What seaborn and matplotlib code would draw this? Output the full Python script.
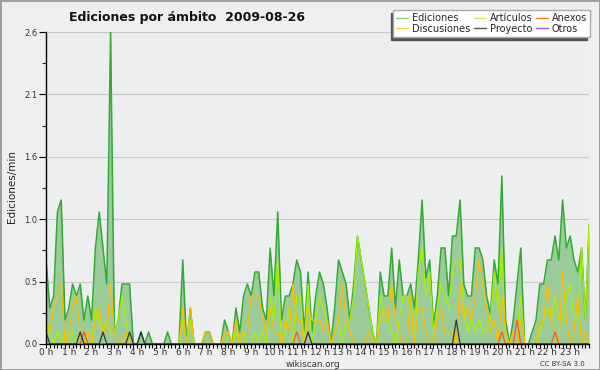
import matplotlib
matplotlib.use("Agg")
import matplotlib.pyplot as plt
from matplotlib.lines import Line2D
from matplotlib.ticker import FixedLocator, MultipleLocator
import numpy as np
import pandas as pd
import seaborn as sns

sns.set_theme(style="white")
plt.rcParams['font.family'] = ['DejaVu Sans']

# one value every 10 minutes, 6 per hour
hour_labels = [f"{h} h" for h in range(24)]

ediciones = [
    0.7, 0.3, 0.4, 1.1, 1.2, 0.2,
    0.3, 0.5, 0.4, 0.5, 0.2, 0.4,
    0.2, 0.8, 1.1, 0.8, 0.5, 2.6,
    0.1, 0.2, 0.5, 0.5, 0.5, 0.0,
    0.0, 0.1, 0.0, 0.1, 0.0, 0.0,
    0.0, 0.0, 0.1, 0.0, 0.0, 0.0,
    0.7, 0.0, 0.3, 0.0, 0.0, 0.0,
    0.1, 0.1, 0.0, 0.0, 0.0, 0.2,
    0.1, 0.0, 0.3, 0.1, 0.4, 0.5,
    0.4, 0.6, 0.6, 0.3, 0.2, 0.8,
    0.4, 1.1, 0.2, 0.4, 0.4, 0.5,
    0.7, 0.6, 0.1, 0.6, 0.1, 0.4,
    0.6, 0.5, 0.3, 0.0, 0.3, 0.7,
    0.6, 0.5, 0.2, 0.5, 0.9, 0.7,
    0.5, 0.3, 0.1, 0.0, 0.6, 0.4,
    0.4, 0.8, 0.3, 0.7, 0.4, 0.4,
    0.5, 0.3, 0.7, 1.2, 0.55, 0.7,
    0.15, 0.4, 0.8, 0.8, 0.4, 0.9,
    0.9, 1.2, 0.5, 0.4, 0.4, 0.8,
    0.8, 0.7, 0.4, 0.25, 0.7, 0.5,
    1.4, 0.2, 0.0, 0.2, 0.5, 0.8,
    0.0, 0.0, 0.1, 0.2, 0.5, 0.5,
    0.7, 0.7, 0.9, 0.7, 1.2, 0.8,
    0.9, 0.7, 0.6, 0.8, 0.2, 1.0,
]
articulos = [
    0.2, 0.1, 0.0, 0.1, 0.0, 0.1,
    0.0, 0.1, 0.0, 0.1, 0.0, 0.1,
    0.0, 0.3, 0.2, 0.1, 0.2, 0.1,
    0.1, 0.2, 0.4, 0.2, 0.0, 0.0,
    0.0, 0.0, 0.0, 0.0, 0.0, 0.0,
    0.0, 0.0, 0.0, 0.0, 0.0, 0.0,
    0.2, 0.0, 0.2, 0.0, 0.0, 0.0,
    0.0, 0.0, 0.0, 0.0, 0.0, 0.0,
    0.1, 0.0, 0.1, 0.0, 0.1, 0.0,
    0.0, 0.1, 0.0, 0.1, 0.0, 0.4,
    0.2, 0.7, 0.0, 0.1, 0.3, 0.0,
    0.4, 0.4, 0.0, 0.5, 0.0, 0.2,
    0.4, 0.3, 0.2, 0.0, 0.1, 0.2,
    0.0, 0.2, 0.2, 0.4, 0.9, 0.7,
    0.5, 0.3, 0.1, 0.0, 0.4, 0.2,
    0.2, 0.1, 0.0, 0.2, 0.4, 0.4,
    0.3, 0.0, 0.6, 0.8, 0.4, 0.6,
    0.1, 0.3, 0.5, 0.4, 0.3, 0.6,
    0.7, 0.7, 0.3, 0.1, 0.2, 0.1,
    0.2, 0.1, 0.1, 0.2, 0.6, 0.3,
    0.8, 0.0, 0.0, 0.1, 0.1, 0.4,
    0.0, 0.0, 0.0, 0.0, 0.1, 0.2,
    0.3, 0.2, 0.4, 0.2, 0.2, 0.4,
    0.5, 0.2, 0.2, 0.8, 0.2, 1.0,
]
discusiones = [
    0.15, 0.1, 0.3, 0.4, 0.5, 0.0,
    0.1, 0.3, 0.4, 0.1, 0.0, 0.1,
    0.0, 0.2, 0.3, 0.1, 0.1, 0.5,
    0.1, 0.0, 0.0, 0.1, 0.0, 0.0,
    0.0, 0.0, 0.0, 0.0, 0.0, 0.0,
    0.0, 0.0, 0.0, 0.0, 0.0, 0.0,
    0.3, 0.0, 0.3, 0.0, 0.0, 0.0,
    0.1, 0.1, 0.0, 0.0, 0.0, 0.1,
    0.1, 0.0, 0.2, 0.0, 0.1, 0.1,
    0.4, 0.4, 0.4, 0.2, 0.1, 0.3,
    0.1, 0.1, 0.0, 0.2, 0.1, 0.5,
    0.2, 0.2, 0.0, 0.3, 0.2, 0.2,
    0.2, 0.1, 0.2, 0.0, 0.1, 0.2,
    0.5, 0.2, 0.1, 0.0, 0.0, 0.0,
    0.0, 0.1, 0.0, 0.0, 0.2, 0.3,
    0.2, 0.5, 0.2, 0.1, 0.0, 0.0,
    0.4, 0.0, 0.3, 0.3, 0.1, 0.0,
    0.0, 0.2, 0.3, 0.1, 0.1, 0.1,
    0.0, 0.5, 0.2, 0.3, 0.2, 0.4,
    0.7, 0.5, 0.3, 0.1, 0.2, 0.0,
    0.4, 0.1, 0.0, 0.1, 0.0, 0.2,
    0.0, 0.0, 0.0, 0.0, 0.2, 0.2,
    0.5, 0.2, 0.1, 0.0, 0.6, 0.2,
    0.0, 0.1, 0.4, 0.0, 0.1, 0.0,
]
proyecto = [0.0] * 144
for i, v in [(0, 0.1), (9, 0.1), (15, 0.1), (22, 0.1), (25, 0.1), (69, 0.1), (108, 0.2)]:
    proyecto[i] = v
anexos = [0.0] * 144
for i, v in [(10, 0.1), (66, 0.1), (120, 0.1), (124, 0.2), (134, 0.1)]:
    anexos[i] = v
otros = [0.0] * 144

series = {
    'Otros': (otros, '#8844ee'),
    'Artículos': (articulos, '#aaee00'),
    'Discusiones': (discusiones, '#ffbb00'),
    'Anexos': (anexos, '#ff5522'),
    'Proyecto': (proyecto, '#333333'),
}

slot = np.arange(len(ediciones))
df = pd.DataFrame({'slot': slot, 'Ediciones': ediciones})

fig = plt.figure(figsize=(6.0, 3.7), dpi=100, facecolor='#efeff0')
fig.patch.set_edgecolor('#a0a0a0')
fig.patch.set_linewidth(2)
ax = fig.add_axes([0.0767, 0.0703, 0.9053, 0.8432])
ax.set_facecolor('#edeef0')

ax.fill_between(df['slot'], 0, df['Ediciones'], color='#99cc99', lw=0, zorder=2)
sns.lineplot(data=df, x='slot', y='Ediciones', ax=ax, color='#33aa33', lw=1.1, zorder=3)
for name, (vals, col) in series.items():
    sdf = pd.DataFrame({'slot': slot, 'v': vals})
    sns.lineplot(data=sdf, x='slot', y='v', ax=ax, color=col, lw=0.9, zorder=4)

ax.set_xlim(0, len(ediciones) - 1)
ax.set_ylim(0, 2.6)
ax.xaxis.set_major_locator(FixedLocator(np.arange(24) * 6))
ax.xaxis.set_minor_locator(MultipleLocator(1))
ax.set_xticklabels(hour_labels)
yt = np.linspace(0, 2.6, 6)
ax.yaxis.set_major_locator(FixedLocator(yt))
ax.yaxis.set_minor_locator(FixedLocator(yt[:-1] + 0.26))
ax.set_yticklabels([f"{v:.1f}" for v in yt])
ax.tick_params(axis='x', which='both', direction='out', length=3, width=0.8,
               colors='black', labelsize=6.5, pad=0, bottom=True)
ax.tick_params(axis='y', which='major', direction='out', length=5, width=0.8,
               colors='black', labelsize=6, pad=1, left=True)
ax.tick_params(axis='y', which='minor', direction='out', length=3, width=0.8, left=True)
for lab in ax.get_xticklabels() + ax.get_yticklabels():
    lab.set_color('#333333')
ax.grid(axis='y', color='#c8c8c8', lw=0.8)
ax.grid(axis='x', visible=False)
ax.set_axisbelow(True)
for s in ['top', 'right']:
    ax.spines[s].set_visible(False)
for s in ['left', 'bottom']:
    ax.spines[s].set_color('black')
    ax.spines[s].set_linewidth(1)
    ax.spines[s].set_zorder(10)
ax.set_xlabel('')
ax.set_ylabel('')

fig.text(0.02, 0.495, 'Ediciones/min', rotation=90, ha='center', va='center',
         fontsize=7.5, color='#222222')
fig.text(0.312, 0.952, 'Ediciones por ámbito  2009-08-26', ha='center', va='center',
         fontsize=9, fontweight='bold', color='#111111')
fig.text(0.522, 0.015, 'wikiscan.org', ha='center', va='center', fontsize=6.3, color='#333333')
fig.text(0.937, 0.015, 'CC BY-SA 3.0', ha='center', va='center', fontsize=5, color='#333333')

handles = [
    Line2D([], [], color='#88cc88', lw=1), Line2D([], [], color='#ffcc44', lw=1),
    Line2D([], [], color='#ccee55', lw=1), Line2D([], [], color='#555555', lw=1),
    Line2D([], [], color='#ff7744', lw=1), Line2D([], [], color='#9955ee', lw=1),
]
names = ['Ediciones', 'Discusiones', 'Artículos', 'Proyecto', 'Anexos', 'Otros']
fig.legend(handles, names, ncol=3, loc='upper right', bbox_to_anchor=(0.991, 0.985),
           fontsize=7, frameon=True, fancybox=False, edgecolor='#aaaaaa',
           facecolor='white', framealpha=1, handlelength=1.2, handletextpad=0.4,
           columnspacing=0.4, labelspacing=0.05, borderpad=0.3,
           shadow={'ox': -2, 'oy': -2, 'color': '#555555', 'alpha': 1})

fig.savefig('out.png', dpi=100, facecolor=fig.get_facecolor(), edgecolor=fig.get_edgecolor())
